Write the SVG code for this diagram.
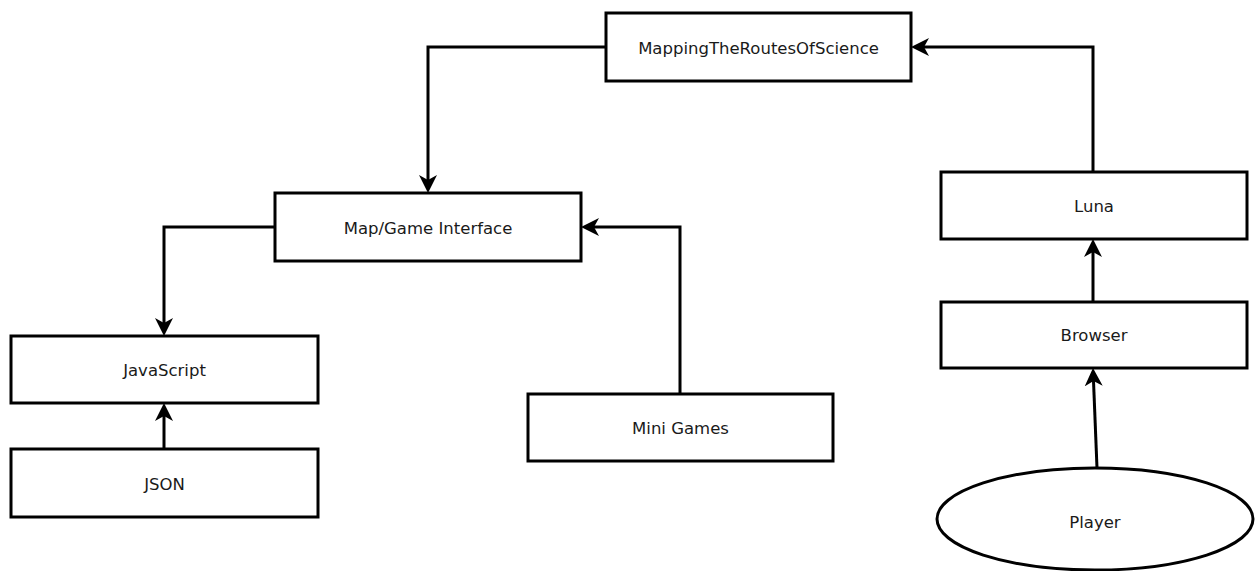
<svg xmlns="http://www.w3.org/2000/svg" width="1257" height="571" viewBox="0 0 1257 571">
<style>
.box{fill:#fff;stroke:#000;stroke-width:3}
.lbl{font-family:"DejaVu Sans",Verdana,sans-serif;font-size:16.5px;fill:#1a1a1a;text-anchor:middle;dominant-baseline:central}
.edge{fill:none;stroke:#000;stroke-width:3;marker-end:url(#arr)}
</style>
<defs>
<marker id="arr" markerUnits="userSpaceOnUse" markerWidth="22" markerHeight="22" viewBox="0 -11 22 22" refX="5" refY="0" orient="auto">
<path d="M0,-9 L18,0 L0,9 L5,0 Z" fill="#000"/>
</marker>
</defs>
<rect width="1257" height="571" fill="#fff"/>
<g id="connectors">
<path class="edge" d="M606,47 H428 V180"/>
<path class="edge" d="M1093,172 V47 H924"/>
<path class="edge" d="M275,227 H164 V323"/>
<path class="edge" d="M680,394 V227 H594"/>
<path class="edge" d="M164,449 V416"/>
<path class="edge" d="M1093,302 V252"/>
<path class="edge" d="M1097,468 L1093.5,381"/>
</g>
<g id="mtros"><rect class="box" x="606" y="13" width="305" height="68"/><text class="lbl" x="758.5" y="48">MappingTheRoutesOfScience</text></g>
<g id="mapgame"><rect class="box" x="275" y="193" width="306" height="68"/><text class="lbl" x="428" y="228">Map/Game Interface</text></g>
<g id="javascript"><rect class="box" x="11" y="336" width="307" height="67"/><text class="lbl" x="164.5" y="370">JavaScript</text></g>
<g id="json"><rect class="box" x="11" y="449" width="307" height="68"/><text class="lbl" x="164.5" y="484">JSON</text></g>
<g id="minigames"><rect class="box" x="528" y="394" width="305" height="67"/><text class="lbl" x="680.5" y="428">Mini Games</text></g>
<g id="luna"><rect class="box" x="941" y="172" width="306" height="67"/><text class="lbl" x="1094" y="206">Luna</text></g>
<g id="browser"><rect class="box" x="941" y="302" width="306" height="66"/><text class="lbl" x="1094" y="335">Browser</text></g>
<g id="player"><ellipse class="box" cx="1095" cy="519" rx="158" ry="51"/><text class="lbl" x="1095" y="522">Player</text></g>
</svg>
